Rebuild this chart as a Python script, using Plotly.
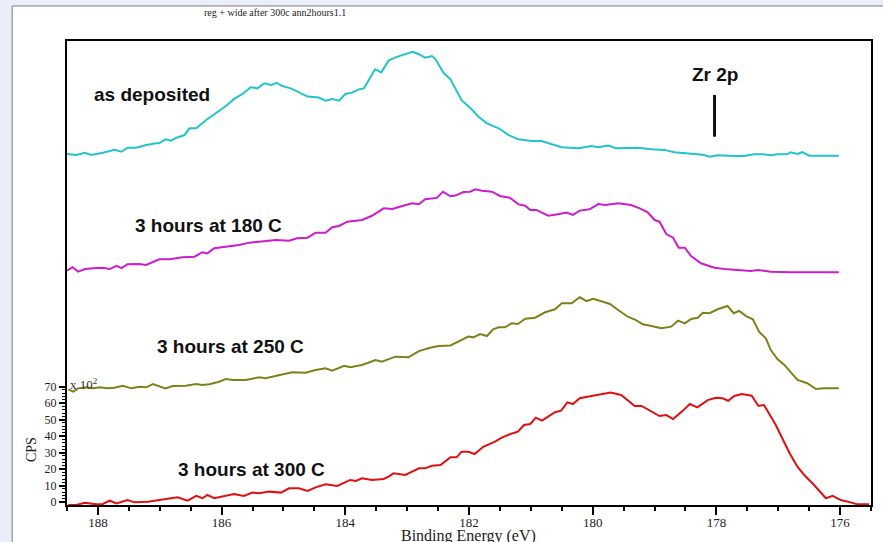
import plotly.graph_objects as go

# ---------------- data (binding energy in eV, counts in units of 10^2 CPS as displayed) ----------------
as_dep_x = [188.50, 188.35, 188.21, 188.11, 187.92, 187.73, 187.62, 187.52, 187.38, 187.22, 187.06, 187.01,
            186.91, 186.82, 186.71, 186.60, 186.52, 186.41, 186.25, 186.09, 185.93, 185.80, 185.66, 185.53,
            185.42, 185.31, 185.20, 185.11, 185.02, 184.88, 184.75, 184.61, 184.43, 184.32, 184.21, 184.10,
            184.00, 183.89, 183.78, 183.70, 183.62, 183.52, 183.42, 183.30, 183.19, 183.03, 182.91, 182.81,
            182.71, 182.60, 182.54, 182.41, 182.30, 182.12, 181.95, 181.86, 181.71, 181.52, 181.36, 181.20,
            180.99, 180.83, 180.67, 180.50, 180.23, 180.02, 179.91, 179.75, 179.62, 179.27, 179.05, 178.84,
            178.68, 178.41, 178.22, 178.11, 177.98, 177.71, 177.55, 177.39, 177.23, 177.12, 177.01, 176.85,
            176.80, 176.69, 176.61, 176.50, 176.02]
as_dep_y = [211.0, 210.4, 211.8, 210.4, 211.8, 213.5, 212.4, 214.8, 214.8, 216.5, 217.5, 217.5,
            219.9, 219.1, 221.2, 222.5, 226.6, 226.6, 231.6, 236.1, 240.1, 244.4, 247.4, 251.5,
            250.8, 253.9, 252.8, 254.2, 252.2, 250.8, 248.2, 245.8, 245.2, 243.3, 244.4, 243.3,
            247.4, 248.2, 250.2, 250.8, 255.9, 262.4, 260.5, 267.6, 269.6, 271.5, 273.0, 271.5,
            269.4, 270.4, 268.4, 260.1, 256.3, 243.6, 237.9, 234.1, 229.6, 226.6, 222.5, 219.9,
            218.9, 218.9, 216.9, 215.1, 214.5, 215.9, 215.1, 216.1, 214.5, 214.8, 213.9, 213.5,
            212.1, 211.0, 210.6, 209.4, 210.2, 209.8, 209.8, 210.8, 210.8, 210.2, 210.8, 211.0,
            212.1, 211.0, 212.1, 210.0, 210.0]

c180_x = [188.50, 188.41, 188.32, 188.21, 188.08, 187.92, 187.81, 187.70, 187.62, 187.52, 187.33, 187.22,
          187.01, 186.84, 186.63, 186.44, 186.31, 186.23, 186.12, 185.93, 185.72, 185.55, 185.34, 185.12,
          184.91, 184.78, 184.61, 184.48, 184.32, 184.21, 184.10, 183.97, 183.73, 183.57, 183.38, 183.24,
          183.08, 182.92, 182.81, 182.71, 182.52, 182.42, 182.30, 182.22, 182.09, 181.98, 181.90, 181.79,
          181.63, 181.50, 181.34, 181.20, 181.09, 181.01, 180.91, 180.72, 180.56, 180.42, 180.32, 180.21,
          180.05, 179.91, 179.80, 179.59, 179.38, 179.24, 179.11, 179.00, 178.92, 178.81, 178.70, 178.61,
          178.51, 178.41, 178.25, 178.03, 177.82, 177.60, 177.44, 177.33, 177.12, 176.80, 176.02]
c180_y = [140.3, 142.4, 139.7, 141.3, 141.8, 142.1, 141.3, 143.2, 141.8, 144.2, 144.4, 143.8,
          147.2, 147.2, 148.4, 148.8, 151.5, 150.8, 153.9, 154.9, 155.9, 157.3, 157.9, 158.9,
          158.5, 159.9, 160.3, 163.3, 163.3, 166.6, 167.4, 170.0, 171.0, 173.6, 178.1, 177.7,
          179.5, 181.1, 180.6, 183.6, 184.4, 188.2, 185.4, 185.8, 188.0, 188.2, 189.6, 188.8,
          188.2, 185.6, 184.5, 180.5, 179.7, 177.1, 177.1, 173.6, 174.5, 175.5, 174.1, 176.7,
          177.5, 180.7, 180.1, 181.1, 180.1, 178.1, 175.7, 171.0, 170.0, 162.5, 160.3, 154.2,
          154.2, 149.2, 144.8, 142.1, 141.1, 140.7, 140.1, 140.7, 139.7, 139.3, 139.3]

c250_x = [188.48, 188.40, 188.32, 188.19, 188.08, 187.97, 187.86, 187.73, 187.60, 187.46, 187.33, 187.22,
          187.11, 187.01, 186.91, 186.79, 186.58, 186.41, 186.31, 186.20, 186.04, 185.93, 185.82, 185.61,
          185.39, 185.29, 185.07, 184.86, 184.64, 184.48, 184.32, 184.21, 184.02, 183.92, 183.73, 183.51,
          183.41, 183.19, 182.98, 182.81, 182.63, 182.49, 182.30, 182.20, 182.01, 181.93, 181.82, 181.71,
          181.61, 181.52, 181.42, 181.31, 181.21, 181.09, 180.93, 180.77, 180.61, 180.50, 180.34, 180.21,
          180.10, 179.99, 179.72, 179.59, 179.43, 179.30, 179.19, 179.05, 178.89, 178.73, 178.62, 178.51,
          178.41, 178.30, 178.22, 178.11, 177.98, 177.82, 177.72, 177.63, 177.52, 177.41, 177.31, 177.20,
          177.12, 177.01, 176.90, 176.69, 176.53, 176.39, 176.26, 176.02]
c250_y = [68.4, 67.0, 69.0, 69.6, 69.0, 69.6, 69.0, 69.4, 70.6, 69.0, 70.0, 69.6,
          71.6, 70.4, 69.0, 70.4, 70.6, 71.6, 71.0, 71.5, 73.0, 74.7, 74.1, 74.1,
          75.7, 75.1, 77.1, 78.7, 78.5, 80.1, 81.2, 79.7, 82.7, 81.8, 83.2, 86.2,
          85.2, 88.2, 87.8, 91.6, 93.6, 94.7, 95.0, 96.7, 100.4, 99.9, 101.9, 100.7,
          104.8, 106.0, 106.0, 108.4, 108.0, 111.2, 111.8, 115.1, 116.9, 120.5, 120.5, 124.2,
          121.9, 123.2, 120.1, 116.5, 112.4, 110.4, 107.8, 106.8, 105.4, 106.4, 110.0, 108.4,
          111.0, 111.8, 114.8, 114.5, 116.9, 118.9, 114.5, 115.9, 112.8, 110.8, 103.3, 99.3,
          92.2, 86.6, 83.2, 74.1, 72.1, 68.6, 69.0, 69.0]

c300_x = [188.48, 188.35, 188.21, 188.03, 187.92, 187.81, 187.70, 187.52, 187.41, 187.19, 187.01, 186.71,
          186.55, 186.41, 186.31, 186.23, 186.12, 185.80, 185.64, 185.50, 185.39, 185.23, 185.04, 184.91,
          184.75, 184.61, 184.48, 184.32, 184.13, 183.92, 183.83, 183.73, 183.57, 183.38, 183.30, 183.22,
          183.03, 182.81, 182.71, 182.60, 182.46, 182.30, 182.20, 182.12, 182.01, 181.91, 181.77, 181.58,
          181.47, 181.34, 181.21, 181.11, 181.01, 180.92, 180.82, 180.61, 180.51, 180.41, 180.32, 180.21,
          180.02, 179.86, 179.71, 179.54, 179.43, 179.32, 179.21, 179.05, 178.92, 178.81, 178.70, 178.54,
          178.43, 178.31, 178.14, 178.01, 177.90, 177.81, 177.71, 177.59, 177.43, 177.32, 177.23, 177.04,
          176.90, 176.82, 176.69, 176.58, 176.42, 176.31, 176.23, 176.12, 175.99, 175.83, 175.72, 175.53]
c300_y = [-1.7, -1.7, -0.3, -1.3, -1.1, 0.9, -0.7, 1.3, -0.1, 0.3, 1.3, 3.0,
          0.9, 3.8, 2.4, 4.4, 2.4, 5.0, 3.8, 5.8, 5.4, 6.4, 5.8, 8.4,
          8.4, 6.8, 9.0, 10.8, 9.8, 13.5, 12.9, 14.5, 13.5, 14.1, 15.5, 17.5,
          16.5, 20.5, 20.5, 22.1, 22.5, 27.2, 27.2, 30.6, 30.6, 29.2, 33.6, 36.7,
          39.1, 41.2, 42.7, 46.8, 47.4, 51.2, 49.4, 54.5, 55.5, 60.5, 59.5, 63.0,
          64.4, 65.2, 66.4, 65.0, 61.9, 58.3, 58.3, 54.9, 52.2, 52.8, 50.4, 55.5,
          59.5, 57.5, 61.9, 63.3, 63.0, 61.5, 64.4, 65.6, 64.5, 58.3, 58.9, 46.8,
          35.7, 30.0, 21.5, 16.5, 10.4, 5.8, 2.4, 3.8, 1.3, -0.1, -1.3, -1.3]

y_tick_vals = [0, 10, 20, 30, 40, 50, 60, 70]
y_tick_text = ["0", "10", "20", "30", "40", "50", "60", "70"]
x_tick_vals = [188, 186, 184, 182, 180, 178, 176]
x_tick_text = ["188", "186", "184", "182", "180", "178", "176"]
x_minor_vals = [188.5, 187.5, 187, 186.5, 185.5, 185, 184.5, 183.5, 183, 182.5, 181.5, 181, 180.5,
                179.5, 179, 178.5, 177.5, 177, 176.5, 175.5]
y_minor_vals = [2, 4, 6, 8, 12, 14, 16, 18, 22, 24, 26, 28, 32, 34, 36, 38, 42, 44, 46, 48,
                52, 54, 56, 58, 62, 64, 66, 68]

series_names = ["as deposited", "3 hours at 180 C", "3 hours at 250 C", "3 hours at 300 C"]
label_x = [187.12, 186.22, 185.86, 185.51]
label_y = [246.8, 167.4, 94.4, 20.1]
marker_x = 178.03
marker_y = [221.5, 246.8]

colors = ["#22c3ca", "#cc1ccc", "#80801a", "#e01010"]

fig = go.Figure()
for xs, ys, c, n in zip([as_dep_x, c180_x, c250_x, c300_x],
                        [as_dep_y, c180_y, c250_y, c300_y], colors, series_names):
    fig.add_trace(go.Scatter(x=xs, y=ys, mode="lines", name=n,
                             line=dict(color=c, width=2), showlegend=False, hoverinfo="x+y"))

# Zr 2p marker bar
fig.add_trace(go.Scatter(x=[marker_x, marker_x], y=marker_y, mode="lines",
                         line=dict(color="#111111", width=3), showlegend=False, hoverinfo="skip"))

serif = "Liberation Serif, Times New Roman, serif"
sans = "Liberation Sans, Arial, sans-serif"

annotations = []
for n, lx, ly in zip(series_names, label_x, label_y):
    annotations.append(dict(x=lx, y=ly, xref="x", yref="y", text="<b>%s</b>" % n, showarrow=False,
                            font=dict(family=sans, size=19, color="#111111"),
                            xanchor="center", yanchor="middle"))
annotations.append(dict(x=marker_x, y=258.9, xref="x", yref="y", text="<b>Zr 2p</b>", showarrow=False,
                        font=dict(family=sans, size=19, color="#111111"),
                        xanchor="center", yanchor="middle"))
# page title
annotations.append(dict(x=(276 - 67) / 806, y=(505 - 12) / 464, xref="paper", yref="paper",
                        text="reg + wide after 300c ann2hours1.1", showarrow=False,
                        font=dict(family=serif, size=10, color="#222222"),
                        xanchor="center", yanchor="middle"))
# y axis title
annotations.append(dict(x=(31 - 67) / 806, y=(505 - 450) / 464, xref="paper", yref="paper",
                        text="CPS", showarrow=False, textangle=-90,
                        font=dict(family=serif, size=14, color="#222222"),
                        xanchor="center", yanchor="middle"))
# scale factor
annotations.append(dict(x=(68 - 67) / 806, y=(505 - 384) / 464, xref="paper", yref="paper",
                        text="x 10<sup>2</sup>", showarrow=False,
                        font=dict(family=serif, size=13, color="#333333"),
                        xanchor="left", yanchor="middle"))
# x axis title
annotations.append(dict(x=(469 - 67) / 806, y=(505 - 536) / 464, xref="paper", yref="paper",
                        text="Binding Energy (eV)", showarrow=False,
                        font=dict(family=serif, size=16, color="#222222"),
                        xanchor="center", yanchor="middle"))

shapes = [dict(type="rect", xref="paper", yref="paper",
               x0=(12 - 67) / 806, x1=(900 - 67) / 806,
               y0=(505 - 560) / 464, y1=(505 - 6) / 464,
               fillcolor="white", line=dict(color="#7a7a7a", width=1), layer="below")]

fig.update_layout(
    width=883, height=542,
    margin=dict(l=67, r=10, t=41, b=37),
    paper_bgcolor="#e9eef8",
    plot_bgcolor="white",
    annotations=annotations,
    shapes=shapes,
    xaxis=dict(range=[188.5, 175.5], tickmode="array", tickvals=x_tick_vals, ticktext=x_tick_text,
               ticks="outside", ticklen=8, tickwidth=2, tickcolor="black", ticklabelstandoff=-4,
               minor=dict(tickmode="array", tickvals=x_minor_vals, ticks="outside", ticklen=4,
                          tickwidth=2, tickcolor="black", showgrid=False),
               showline=True, linecolor="black", linewidth=2, mirror=True,
               showgrid=False, zeroline=False,
               tickfont=dict(family=serif, size=13, color="#222222")),
    yaxis=dict(range=[-1.7, 279.5], tickmode="array", tickvals=y_tick_vals, ticktext=y_tick_text,
               ticks="outside", ticklen=6, tickwidth=1.5, tickcolor="black",
               minor=dict(tickmode="array", tickvals=y_minor_vals, ticks="outside", ticklen=3,
                          tickwidth=1.2, tickcolor="black", showgrid=False),
               showline=True, linecolor="black", linewidth=2, mirror=True,
               showgrid=False, zeroline=False,
               tickfont=dict(family=serif, size=12, color="#222222")),
)

# remove the browser's default 8px page margin so the figure sits at the window's corner
fig.write_html("out.html", config={"displayModeBar": False},
               post_script="document.body.style.margin='0';")
